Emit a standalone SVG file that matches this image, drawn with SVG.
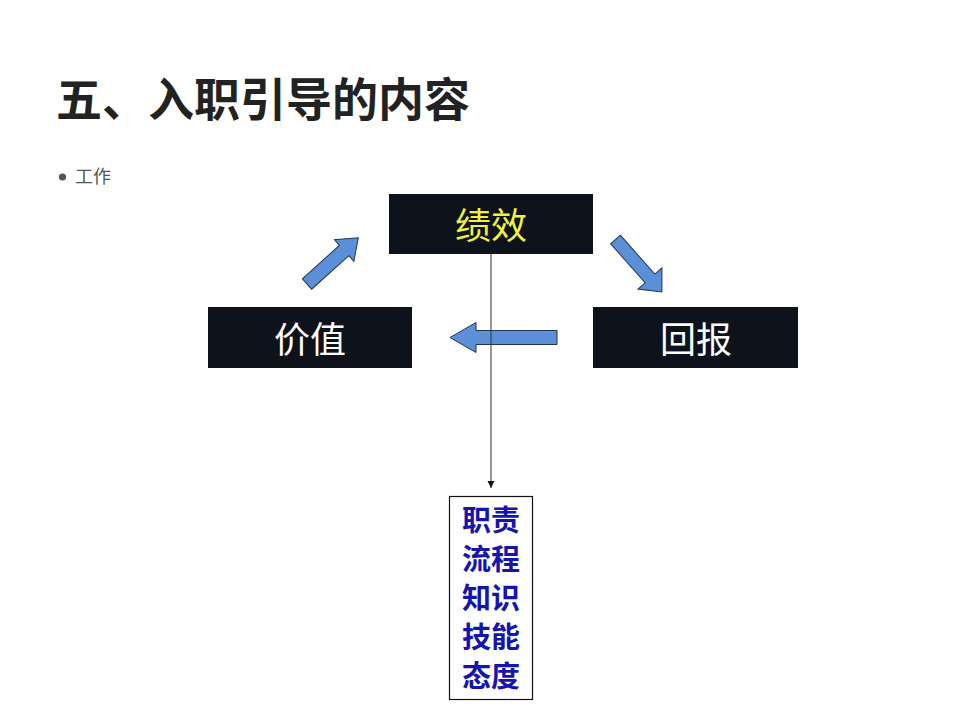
<svg xmlns="http://www.w3.org/2000/svg" width="960" height="720" viewBox="0 0 960 720">
  <style>
    .cjk { font-family: "Noto Sans CJK SC", "Noto Sans", sans-serif; }
    .title { font-size: 46px; font-weight: 700; fill: #222222; }
    .bullet { font-size: 18px; fill: #555555; }
    .dark { fill: #0e121b; }
    .boxtxt { font-size: 36px; text-anchor: middle; }
    .blk { fill: #5b8fd8; stroke: #233556; stroke-width: 1; stroke-linejoin: miter; }
    .list { font-size: 29px; font-weight: 700; fill: #1414b0; text-anchor: middle; }
  </style>
  <defs>
    <marker id="ah" markerUnits="userSpaceOnUse" markerWidth="8" markerHeight="8" refX="7" refY="3.5" orient="auto">
      <path d="M0,0 L7,3.5 L0,7 Z" fill="#111111"/>
    </marker>
  </defs>
  <rect width="960" height="720" fill="#ffffff"/>

  <g id="title">
    <text class="cjk title" x="56" y="116">五、入职引导的内容</text>
  </g>
  <g id="bullet">
    <circle cx="62.5" cy="177" r="3.6" fill="#555555"/>
    <text class="cjk bullet" x="75" y="183">工作</text>
  </g>

  <g id="node-performance">
    <rect class="dark" x="389" y="194" width="204" height="60"/>
    <text class="cjk boxtxt" x="491" y="239" fill="#f2f23a">绩效</text>
  </g>
  <g id="node-value">
    <rect class="dark" x="208" y="307" width="204" height="61"/>
    <text class="cjk boxtxt" x="310" y="353" fill="#ffffff">价值</text>
  </g>
  <g id="node-reward">
    <rect class="dark" x="593" y="307" width="205" height="61"/>
    <text class="cjk boxtxt" x="696" y="353" fill="#ffffff">回报</text>
  </g>
  <g id="node-content">
    <rect x="449.5" y="496.5" width="83" height="203" fill="#ffffff" stroke="#111111" stroke-width="1.2"/>
    <text class="cjk list" x="491" y="531">职责</text>
    <text class="cjk list" x="491" y="570">流程</text>
    <text class="cjk list" x="491" y="609">知识</text>
    <text class="cjk list" x="491" y="648">技能</text>
    <text class="cjk list" x="491" y="687">态度</text>
  </g>

  <g id="connectors">
    <polygon class="blk" transform="translate(307,284) rotate(-42)" points="0,-7 50,-7 50,-14.5 69,0 50,14.5 50,7 0,7"/>
    <polygon class="blk" transform="translate(615.5,239.5) rotate(48.5)" points="0,-6.5 52,-6.5 52,-16 70,0 52,16 52,6.5 0,6.5"/>
    <polygon class="blk" points="557,330.5 476,330.5 476,322.5 450,337.5 476,352.5 476,344.5 557,344.5"/>
    <line x1="491" y1="254" x2="491" y2="488" stroke="#333333" stroke-width="1" marker-end="url(#ah)"/>
  </g>
</svg>
